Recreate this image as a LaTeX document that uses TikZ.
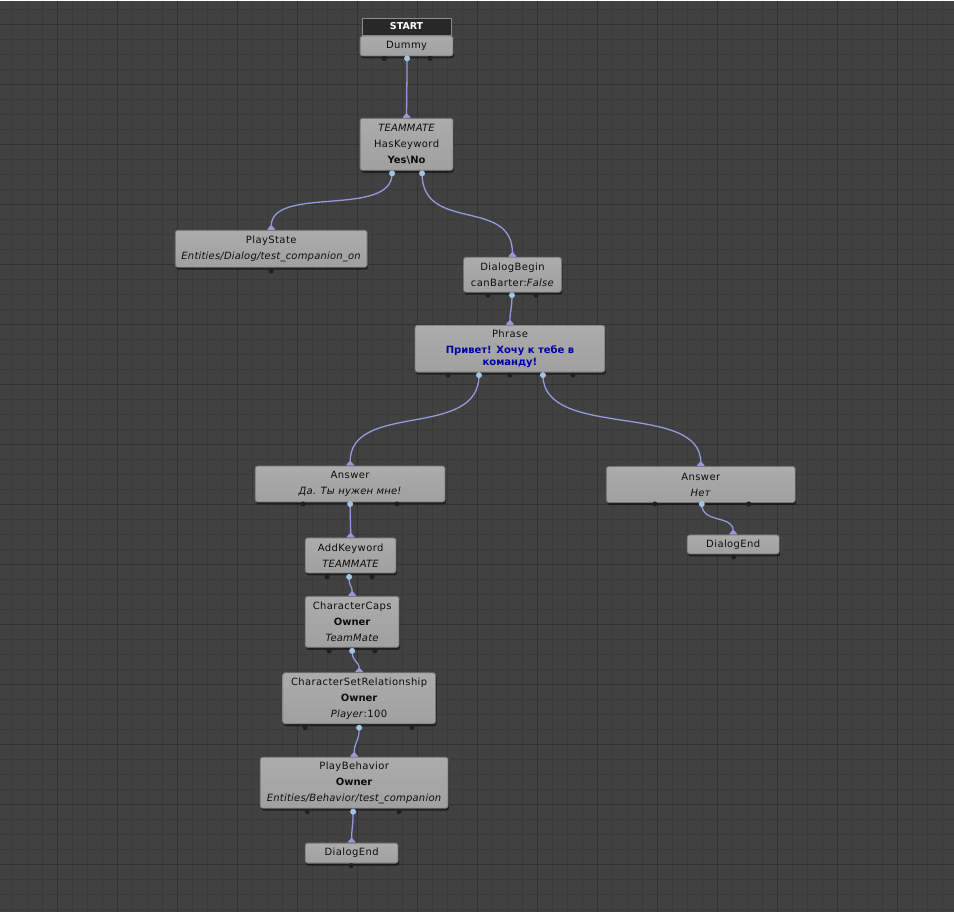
\documentclass[tikz,border=0pt]{standalone}
\usepackage{fontspec}
\setmainfont{DejaVu Sans}[LetterSpace=4, ItalicFeatures={LetterSpace=2}, BoldFeatures={LetterSpace=0}]
\usetikzlibrary{arrows.meta,shadows}
\definecolor{bgcol}{RGB}{65,65,65}
\definecolor{gridminor}{RGB}{58,58,58}
\definecolor{gridmajor}{RGB}{50,50,50}
\definecolor{nodetop}{RGB}{172,172,172}
\definecolor{nodebottom}{RGB}{160,160,160}
\definecolor{nodeedge}{RGB}{118,118,118}
\definecolor{wirecol}{RGB}{152,152,222}
\definecolor{portblue}{RGB}{160,196,226}
\definecolor{phrasetext}{RGB}{0,0,165}
\definecolor{startfill}{RGB}{40,40,40}
\pgfdeclarelayer{bglayer}
\pgfdeclarelayer{wirelayer}
\pgfsetlayers{bglayer,wirelayer,main}
\tikzset{
  gnode/.style={draw=nodeedge, top color=nodetop, bottom color=nodebottom, rounded corners=2.5pt, line width=0.8pt,
    align=center, font=\fontsize{10}{16}\selectfont, text=black!95, inner sep=0pt,
    drop shadow={shadow xshift=1pt, shadow yshift=-2.5pt, opacity=0.5, fill=black}},
  startbox/.style={draw=black!45, fill=startfill, line width=0.8pt, inner sep=0pt,
    font=\fontsize{9.5}{10}\selectfont\bfseries, text=white!92},
  wirestyle/.style={draw=wirecol, line width=1.3pt, -{Triangle[reversed,width=9pt,length=5pt,round]}},
  portdark/.style={circle, fill=black!88, inner sep=0pt, minimum size=5pt},
  portlit/.style={circle, fill=portblue, inner sep=0pt, minimum size=6pt},
  minorline/.style={draw=gridminor, line width=1pt},
  majorline/.style={draw=gridmajor, line width=1pt},
}
\newcommand\wireconn[3]{\draw[wirestyle] (#1.center) .. controls ([yshift=-#3pt]#1.center) and ([yshift=#3pt]#2.north) .. (#2.north);}
\begin{document}
\begin{tikzpicture}[x=1pt,y=-1pt]
\begin{pgfonlayer}{bglayer}
\fill[bgcol] (0,0) rectangle (954,912);
\foreach \x in {12.5,27.5,...,954} \draw[minorline] (\x,0) -- (\x,912);
\foreach \y in {9.5,24.5,...,912} \draw[minorline] (0,\y) -- (954,\y);
\foreach \x in {57.5,117.5,...,954} \draw[majorline] (\x,0) -- (\x,912);
\foreach \y in {24.5,84.5,...,912} \draw[majorline] (0,\y) -- (954,\y);
\end{pgfonlayer}
\useasboundingbox (0,0) rectangle (954,912);

% nodes
\node[startbox, minimum width=89pt, minimum height=17pt] (start) at (406.5,26) {START};
\node[gnode, minimum width=93pt, minimum height=20pt] (dummy) at (406.5,45.5) {Dummy};
\node[gnode, minimum width=93pt, minimum height=52pt] (hk) at (406.5,144)
  {\textit{TEAMMATE}\\HasKeyword\\\textbf{Yes\textbackslash No}};
\node[gnode, minimum width=192pt, minimum height=37pt] (ps) at (271,248.5)
  {PlayState\\\textit{Entities/Dialog/test\_companion\_on}};
\node[gnode, minimum width=98pt, minimum height=35pt] (db) at (512.5,274.5)
  {DialogBegin\\canBarter:\textit{False}};
\node[gnode, minimum width=190pt, minimum height=47pt] (ph) at (510,348.5)
  {Phrase\\\textbf{\textcolor{phrasetext}{Привет! Хочу к тебе в}}\\[-4pt]\textbf{\textcolor{phrasetext}{команду!}}};
\node[gnode, minimum width=190pt, minimum height=36pt] (a1) at (350,484)
  {Answer\\\textit{Да. Ты нужен мне!}};
\node[gnode, minimum width=189pt, minimum height=36pt] (a2) at (701,484.5)
  {Answer\\\textit{Нет}};
\node[gnode, minimum width=92pt, minimum height=19pt] (de1) at (733.5,544.5) {DialogEnd};
\node[gnode, minimum width=91pt, minimum height=35pt] (ak) at (350.5,555.5)
  {AddKeyword\\\textit{TEAMMATE}};
\node[gnode, minimum width=94pt, minimum height=51pt] (cc) at (352,622)
  {CharacterCaps\\\textbf{Owner}\\\textit{TeamMate}};
\node[gnode, minimum width=153pt, minimum height=51pt] (csr) at (359,698.5)
  {CharacterSetRelationship\\\textbf{Owner}\\\textit{Player}:100};
\node[gnode, minimum width=188pt, minimum height=51pt] (pb) at (354,783)
  {PlayBehavior\\\textbf{Owner}\\\textit{Entities/Behavior/test\_companion}};
\node[gnode, minimum width=93pt, minimum height=20pt] (de2) at (351.5,853.5) {DialogEnd};

% ports
\node[portdark] (p1) at (384,58) {};
\node[portlit] (dmo) at (407,58) {};
\node[portdark] (p2) at (430,58) {};
\node[portlit] (hko1) at (392,173) {};
\node[portlit] (hko2) at (422,173) {};
\node[portdark] (p3) at (271,271) {};
\node[portdark] (p4) at (488,295) {};
\node[portlit] (dbo) at (512,295) {};
\node[portdark] (p5) at (536,295) {};
\node[portdark] (p6) at (448,375) {};
\node[portlit] (pho1) at (479,375) {};
\node[portdark] (p7) at (510,375) {};
\node[portlit] (pho2) at (543,375) {};
\node[portdark] (p8) at (573,375) {};
\node[portdark] (p9) at (303,504) {};
\node[portlit] (a1o) at (350,504) {};
\node[portdark] (p10) at (397,504) {};
\node[portdark] (p11) at (655,504) {};
\node[portlit] (a2o) at (702,504) {};
\node[portdark] (p12) at (749,504) {};
\node[portdark] (p13) at (734,557) {};
\node[portdark] (p14) at (327,577) {};
\node[portlit] (ako) at (349,577) {};
\node[portdark] (p15) at (372,577) {};
\node[portdark] (p16) at (329,651) {};
\node[portlit] (cco) at (352,651) {};
\node[portdark] (p17) at (375,651) {};
\node[portdark] (p18) at (305,728) {};
\node[portlit] (csro) at (359,728) {};
\node[portdark] (p19) at (412,728) {};
\node[portdark] (p20) at (307,812) {};
\node[portlit] (pbo) at (353,812) {};
\node[portdark] (p21) at (399,812) {};
\node[portdark] (p22) at (351,866) {};

% wires
\begin{pgfonlayer}{wirelayer}
\wireconn{dmo}{hk}{20}
\wireconn{hko1}{ps}{45}
\wireconn{hko2}{db}{60}
\wireconn{dbo}{ph}{15}
\wireconn{pho1}{a1}{65}
\wireconn{pho2}{a2}{65}
\wireconn{a1o}{ak}{15}
\wireconn{a2o}{de1}{20}
\wireconn{ako}{cc}{12}
\wireconn{cco}{csr}{12}
\wireconn{csro}{pb}{15}
\wireconn{pbo}{de2}{15}
\end{pgfonlayer}
\end{tikzpicture}
\end{document}
